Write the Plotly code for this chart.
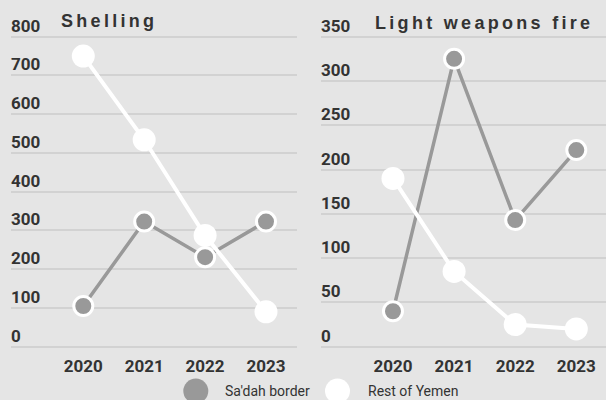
import plotly.graph_objects as go

# ---- data ----
years = [2020, 2021, 2022, 2023]
series_names = ["Sa'dah border", "Rest of Yemen"]
titles = ["Shelling", "Light weapons fire"]

shelling_sadah = [105, 323, 231, 323]
shelling_rest = [750, 534, 287, 90]
lwf_sadah = [40, 325, 143, 222]
lwf_rest = [190, 85, 25, 20]

shelling_ticks = [0, 100, 200, 300, 400, 500, 600, 700, 800]
lwf_ticks = [0, 50, 100, 150, 200, 250, 300, 350]

# ---- style ----
W, H = 606, 400
BG = "#e5e5e5"
GRID = "#d2d2d2"
GRAY = "#999999"
TXT = "#333333"

ZERO_PX = 346.7   # pixel row of value 0
TOP_PX = 36.7     # pixel row of the top tick


def px_x(p):
    return p / W


def px_y(p):
    return (H - p) / H


def y_domain(rng, top_tick):
    scale = (ZERO_PX - TOP_PX) / top_tick
    bottom = ZERO_PX - rng[0] * scale
    top = ZERO_PX - rng[1] * scale
    return [px_y(bottom), px_y(top)]


fig = go.Figure()

panels = [
    ("x", "y", shelling_sadah, shelling_rest),
    ("x2", "y2", lwf_sadah, lwf_rest),
]
for xa, ya, sadah, rest in panels:
    fig.add_trace(go.Scatter(
        x=years, y=sadah, xaxis=xa, yaxis=ya, mode="lines+markers",
        name=series_names[0], showlegend=False, cliponaxis=False,
        line=dict(color=GRAY, width=3.5),
        marker=dict(color=GRAY, size=19, line=dict(color="white", width=3)),
    ))
    fig.add_trace(go.Scatter(
        x=years, y=rest, xaxis=xa, yaxis=ya, mode="lines+markers",
        name=series_names[1], showlegend=False, cliponaxis=False,
        line=dict(color="white", width=4),
        marker=dict(color="white", size=23, line=dict(width=0)),
    ))

tickfont = dict(family="Roboto", size=17, color=TXT, weight="bold")

common_x = dict(
    tickmode="array", tickvals=years, ticktext=[str(y) for y in years],
    showgrid=False, zeroline=False, showline=False,
    ticks="", ticklabelstandoff=3, tickfont=tickfont, fixedrange=True,
)
common_y = dict(
    showgrid=True, gridcolor=GRID, gridwidth=1.5, zeroline=False,
    showline=False, ticks="", ticklabelposition="inside",
    ticklabelshift=-11, ticklabelstandoff=-3, tickfont=tickfont, fixedrange=True,
)

rng1 = [-10, 870]
rng2 = [-5, 380]

fig.update_layout(
    width=W, height=H,
    margin=dict(l=0, r=0, t=0, b=0),
    paper_bgcolor=BG, plot_bgcolor=BG,
    showlegend=False,
    xaxis=dict(domain=[px_x(11), px_x(297)], range=[2018.813, 2023.509],
               anchor="y", **common_x),
    yaxis=dict(range=rng1, tickvals=shelling_ticks, domain=y_domain(rng1, shelling_ticks[-1]),
               ticktext=[str(v) for v in shelling_ticks], anchor="x", **common_y),
    xaxis2=dict(domain=[px_x(321), 1.0], range=[2018.822, 2023.486],
                anchor="y2", **common_x),
    yaxis2=dict(range=rng2, tickvals=lwf_ticks, domain=y_domain(rng2, lwf_ticks[-1]),
                ticktext=[str(v) for v in lwf_ticks], anchor="x2", **common_y),
)

# titles
title_font = dict(family="Liberation Sans, Arial", size=18, color=TXT, weight="bold")
fig.add_annotation(text='<span style="letter-spacing:3.3px">%s</span>' % titles[0],
                   xref="paper", yref="paper", x=px_x(59), y=px_y(21),
                   xanchor="left", yanchor="middle", showarrow=False, font=title_font)
fig.add_annotation(text='<span style="letter-spacing:3.3px">%s</span>' % titles[1],
                   xref="paper", yref="paper", x=px_x(373), y=px_y(23),
                   xanchor="left", yanchor="middle", showarrow=False, font=title_font)

# custom legend
legend_items = [(195.8, GRAY, 223), (337.5, "white", 366)]
for (cx, col, tx), name in zip(legend_items, series_names):
    r = 12.5
    fig.add_shape(type="circle", xref="paper", yref="paper",
                  x0=px_x(cx - r), x1=px_x(cx + r), y0=px_y(391 + r), y1=px_y(391 - r),
                  fillcolor=col, line=dict(width=0), layer="above")
    fig.add_annotation(text=name, xref="paper", yref="paper", x=px_x(tx), y=px_y(391),
                       xanchor="left", yanchor="middle", showarrow=False,
                       font=dict(family="Roboto", size=14, color=TXT))

fig.write_html("out.html")
